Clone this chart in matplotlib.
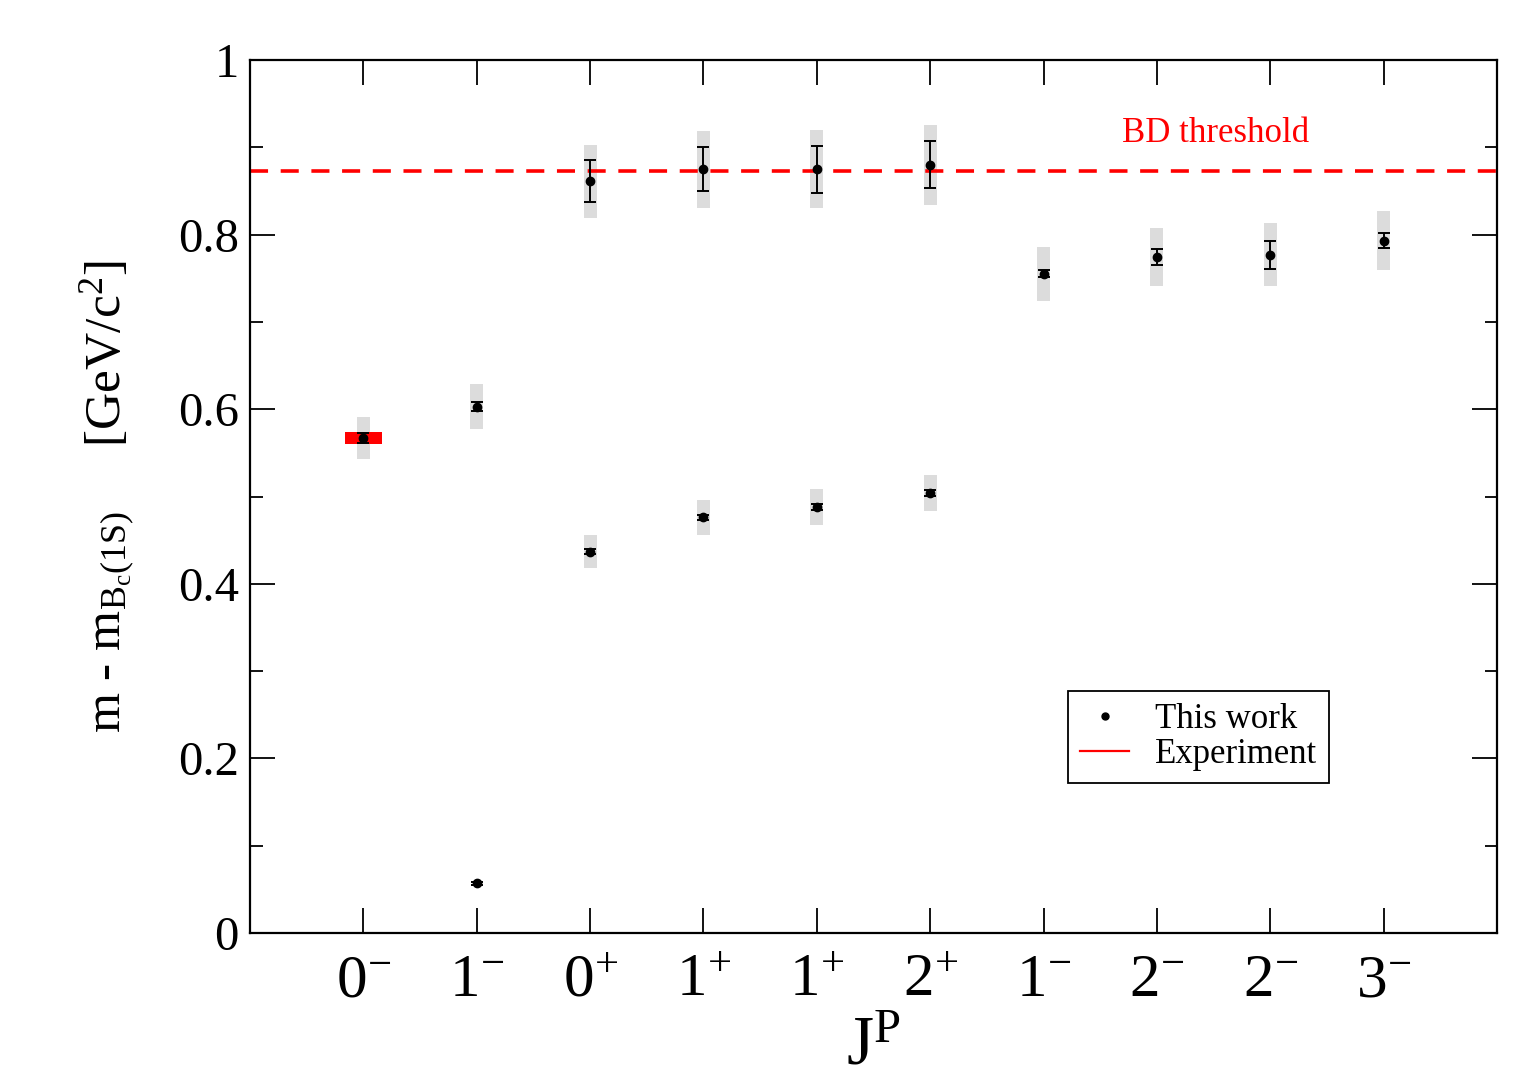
import matplotlib
matplotlib.use("Agg")
import matplotlib.pyplot as plt
from matplotlib.lines import Line2D
from matplotlib.ticker import MultipleLocator

plt.rcParams["font.family"] = ["Liberation Serif", "DejaVu Serif"]
plt.rcParams["mathtext.fontset"] = "custom"
plt.rcParams["mathtext.rm"] = "Liberation Serif"
plt.rcParams["mathtext.it"] = "Liberation Serif:italic"

# ---------------------------------------------
# Data (mass splittings relative to Bc(1S), GeV)
# ---------------------------------------------

jp_labels = ["0^{-}", "1^{-}", "0^{+}", "1^{+}", "1^{+}", "2^{+}",
             "1^{-}", "2^{-}", "2^{-}", "3^{-}"]

# excited states (upper row)
x_upper = [1, 2, 3, 4, 5, 6, 7, 8, 9, 10]
m_upper = [0.567, 0.603, 0.861, 0.875, 0.875, 0.880, 0.755, 0.774, 0.777, 0.793]
stat_upper = [0.006, 0.005, 0.024, 0.025, 0.027, 0.027, 0.004, 0.009, 0.016, 0.0085]
sys_upper = [0.024, 0.026, 0.042, 0.044, 0.045, 0.046, 0.031, 0.033, 0.036, 0.034]

# lowest states (lower row)
x_lower = [2, 3, 4, 5, 6]
m_lower = [0.057, 0.437, 0.476, 0.488, 0.504]
stat_lower = [0.002, 0.003, 0.003, 0.003, 0.003]
sys_lower = [0.0, 0.019, 0.020, 0.021, 0.021]

# experiment: Bc(2S) - Bc(1S)
exp_x = 1
exp_m = 0.567
exp_err = 0.007

bd_threshold = 0.873

# ---------------------------------------------
# Plot
# ---------------------------------------------

fig = plt.figure(figsize=(15.27, 10.79), dpi=100)
ax = fig.add_axes([0.1637, 0.1353, 0.8167, 0.8091])

band_w = 0.115

ax.bar(x_upper, [2 * s for s in sys_upper],
       bottom=[m - s for m, s in zip(m_upper, sys_upper)],
       width=band_w, color="#dcdcdc", zorder=1)
ax.bar(x_lower, [2 * s for s in sys_lower],
       bottom=[m - s for m, s in zip(m_lower, sys_lower)],
       width=band_w, color="#dcdcdc", zorder=1)

ax.bar(exp_x, 2 * exp_err, bottom=exp_m - exp_err, width=0.33,
       color="red", zorder=2)

ax.axhline(bd_threshold, color="red", lw=2.6, ls=(0, (5, 3.5)), zorder=2)
ax.text(8.52, 0.916, "BD threshold", color="red", fontsize=25,
        ha="center", va="center")

ax.errorbar(x_upper, m_upper, yerr=stat_upper, fmt="o", color="black",
            ms=6, capsize=4, elinewidth=1.4, capthick=1.4, zorder=3)
ax.errorbar(x_lower, m_lower, yerr=stat_lower, fmt="o", color="black",
            ms=6, capsize=4, elinewidth=1.4, capthick=1.4, zorder=3)

ax.set_xlim(0, 11)
ax.set_ylim(0, 1)

ax.set_xticks(x_upper)
ax.set_xticklabels([r"$\mathregular{" + lab + "}$" for lab in jp_labels],
                   fontsize=44)
ax.set_yticks([0, 0.2, 0.4, 0.6, 0.8, 1.0])
ax.set_yticklabels(["0", "0.2", "0.4", "0.6", "0.8", "1"], fontsize=35)
ax.yaxis.set_minor_locator(MultipleLocator(0.1))

ax.tick_params(which="both", direction="in", top=True, right=True, width=1.3)
ax.tick_params(which="major", length=18)
ax.tick_params(which="minor", length=9)
ax.tick_params(axis="x", pad=15)
ax.tick_params(axis="y", pad=8)
for sp in ax.spines.values():
    sp.set_linewidth(1.6)

ax.set_ylabel(r"m - m$_{\mathregular{B_c(1S)}}$     [GeV/c$^{\mathregular{2}}$]",
              fontsize=37)
ax.yaxis.set_label_coords(-0.09, 0.5)

# J^P sits at the bottom edge, partly clipped as in the original figure
ax.set_xlabel(r"$\mathregular{J^P}$", fontsize=50)
ax.xaxis.set_label_coords(0.5, -0.095)

handles = [
    Line2D([], [], marker="o", ls="none", color="black", ms=5),
    Line2D([], [], color="red", lw=1.6),
]
leg = ax.legend(handles, ["This work", "Experiment"], fontsize=25,
                loc="upper left", bbox_to_anchor=(0.656, 0.277),
                borderaxespad=0, fancybox=False, framealpha=1,
                edgecolor="black", handlelength=1.4, borderpad=0.35,
                labelspacing=0.05, handletextpad=0.75)
leg.get_frame().set_linewidth(1.3)

plt.savefig("out.png", dpi=100)
